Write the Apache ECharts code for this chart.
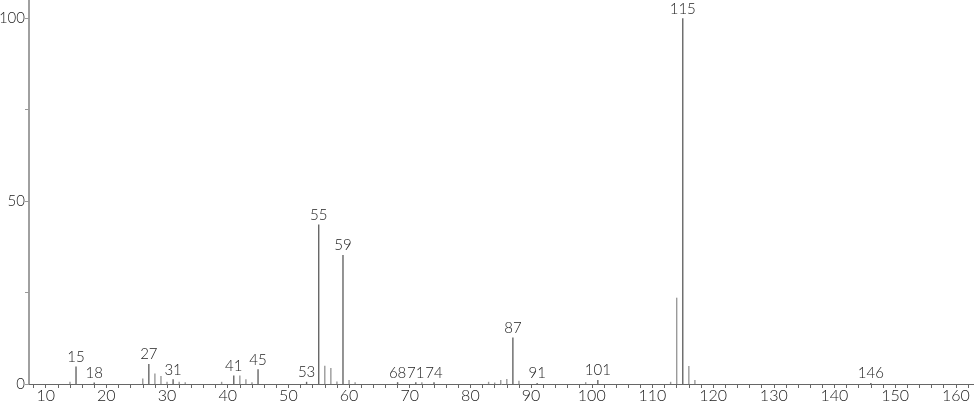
<!DOCTYPE html>
<html><head><meta charset="utf-8">
<script src="https://cdn.jsdelivr.net/npm/echarts@6/dist/echarts.min.js"></script>
<style>html,body{margin:0;padding:0;background:#fff}#c{width:974px;height:406px}</style>
</head><body><div id="c"></div>
<script>
var mz = [14, 15, 18, 26, 27, 28, 29, 30, 31, 32, 33, 39, 41, 42, 43, 44, 45, 53, 55, 56, 57, 58, 59, 60, 61, 68, 71, 72, 74, 83, 84, 85, 86, 87, 88, 91, 99, 101, 113, 114, 115, 116, 117, 146];
var intensity = [0.6, 4.8, 0.4, 1.5, 5.5, 2.9, 2.2, 0.6, 1.3, 0.6, 0.5, 0.6, 2.3, 2.3, 1.3, 0.5, 4.0, 0.6, 43.6, 5.0, 4.4, 0.7, 35.3, 1.1, 0.5, 0.5, 0.5, 0.5, 0.5, 0.6, 0.4, 1.1, 1.4, 12.7, 0.9, 0.3, 0.5, 1.1, 0.6, 23.6, 100, 4.9, 1.1, 0.3];
var labeled = [15, 18, 27, 31, 41, 45, 53, 55, 59, 68, 71, 74, 87, 91, 101, 115, 146];
var xTickLabels = [10, 20, 30, 40, 50, 60, 70, 80, 90, 100, 110, 120, 130, 140, 150, 160];
var yTickLabels = [0, 50, 100];
var yTicks = [0, 25, 50, 75, 100];

var xMinor = [];
for (var v = 8; v <= 162; v += 2) xMinor.push(v);

var data = mz.map(function (m, i) { return [m, intensity[i]]; });

var font = 'Lato';
var chart = echarts.init(document.getElementById('c'), null, { renderer: 'canvas' });
chart.setOption({
  animation: false,
  grid: { left: 29, right: 0, top: 0, bottom: 22, containLabel: false, outerBoundsMode: 'none' },
  xAxis: {
    type: 'value', min: 7.25, max: 163,
    axisLine: { lineStyle: { color: '#666', width: 1 } },
    axisTick: { show: true, customValues: xMinor, length: 4, lineStyle: { color: '#666' } },
    axisLabel: { customValues: xTickLabels, color: '#222', fontFamily: font, fontWeight: 300, fontSize: 16, margin: 4 },
    splitLine: { show: false }
  },
  yAxis: {
    type: 'value', min: 0, max: 105,
    axisLine: { show: true, lineStyle: { color: '#a0a0a0', width: 2 } },
    axisTick: { show: true, customValues: yTicks, length: 4, lineStyle: { color: '#999' } },
    axisLabel: { customValues: yTickLabels, color: '#222', fontFamily: font, fontWeight: 300, fontSize: 15, margin: 4 },
    splitLine: { show: false }
  },
  series: [{
    type: 'custom',
    data: data,
    clip: false,
    renderItem: function (params, api) {
      var m = api.value(0), y = api.value(1);
      var p0 = api.coord([m, 0]);
      var p1 = api.coord([m, y]);
      var isLab = labeled.indexOf(m) >= 0;
      var children = [{
        type: 'line',
        shape: { x1: p0[0], y1: p0[1], x2: p1[0], y2: p1[1] },
        style: { stroke: isLab ? '#666' : '#9a9a9a', lineWidth: 1.4 }
      }];
      if (isLab) {
        children.push({
          type: 'text',
          style: {
            text: String(m), x: p1[0], y: p1[1] - 2,
            align: 'center', verticalAlign: 'bottom',
            fill: '#222', font: '300 15px Lato'
          }
        });
      }
      return { type: 'group', children: children };
    }
  }]
});
</script></body></html>
